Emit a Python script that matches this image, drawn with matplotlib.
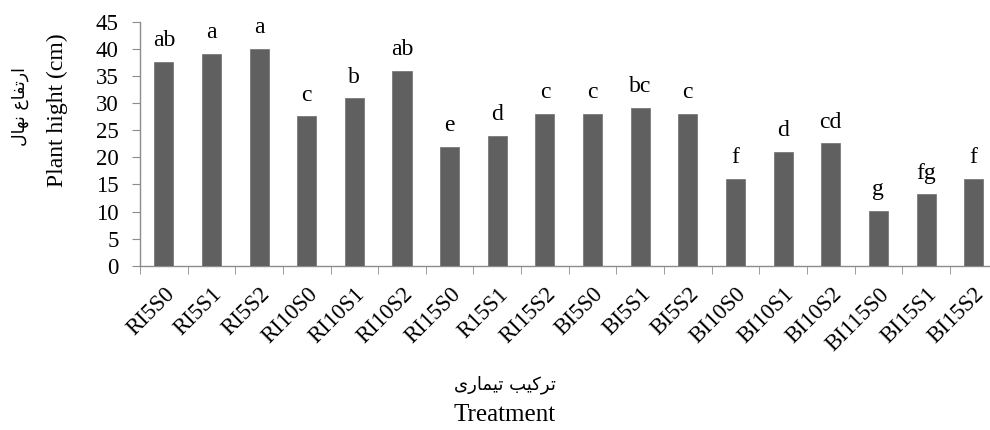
import matplotlib
matplotlib.use("Agg")
import matplotlib.pyplot as plt
import matplotlib.transforms as mtransforms
import numpy as np

treatments = ["RI5S0", "RI5S1", "RI5S2", "RI10S0", "RI10S1", "RI10S2",
              "RI15S0", "R15S1", "RI15S2", "BI5S0", "BI5S1", "BI5S2",
              "BI10S0", "BI10S1", "BI10S2", "BI115S0", "BI15S1", "BI15S2"]
heights = [37.6, 39.1, 40.0, 27.6, 30.9, 36.0,
           21.9, 24.0, 28.1, 28.1, 29.1, 28.1,
           16.0, 21.0, 22.6, 10.1, 13.2, 16.0]
letters = ["ab", "a", "a", "c", "b", "ab",
           "e", "d", "c", "c", "bc", "c",
           "f", "d", "cd", "g", "fg", "f"]

# Persian labels, pre-shaped (presentation forms, visual order)
fa_ylabel = "".join(reversed("\uFE8D\uFEAD\uFE97\uFED4\uFE8E\uFEC9 \uFEE7\uFEEC\uFE8E\uFEDD"))
fa_xlabel = "".join(reversed("\uFE97\uFEAE\uFEDB\uFEF4\uFE90 \uFE97\uFEF4\uFEE4\uFE8E\uFEAD\uFEEF"))

SERIF = ["Liberation Serif", "DejaVu Serif"]
AX_COLOR = "#8c8c8c"
BAR_COLOR = "#606060"

fig = plt.figure(figsize=(9.9, 4.3), dpi=100)
ax = fig.add_axes([140 / 990, 1 - 265.7 / 430, 857.5 / 990, 243.7 / 430])

x = np.arange(len(treatments))
ax.bar(x, heights, width=0.4, color=BAR_COLOR, edgecolor="#7a7a7a", linewidth=0.6, zorder=3)

for xi, h, lab in zip(x, heights, letters):
    ax.text(xi, h + 2.9, lab, ha="center", va="baseline", fontsize=17,
            family=SERIF, color="black")

ax.set_xlim(-0.5, len(treatments) - 0.5)
ax.set_ylim(0, 45)
ax.set_yticks(np.arange(0, 46, 5))
ax.set_xticks(x)
ax.set_xticks(np.arange(-0.5, len(treatments), 1.0), minor=True)
ax.set_xticklabels(treatments, rotation=45, ha="right", rotation_mode="anchor",
                   family=SERIF, fontsize=16.5)
# nudge rotated labels a little left/down like the original
shift = mtransforms.ScaledTranslation(-4 / 100, -2 / 100, fig.dpi_scale_trans)
for t in ax.get_xticklabels():
    t.set_transform(t.get_transform() + shift)
for t in ax.get_yticklabels():
    t.set_family(SERIF)
    t.set_fontsize(16.5)

ax.tick_params(axis="x", which="major", length=0, pad=13)
ax.tick_params(axis="x", which="minor", length=5.5, color=AX_COLOR, direction="out")
ax.tick_params(axis="y", length=5.5, color=AX_COLOR, direction="out", pad=10)

for s in ["top", "right"]:
    ax.spines[s].set_visible(False)
for s in ["left", "bottom"]:
    ax.spines[s].set_color(AX_COLOR)
    ax.spines[s].set_linewidth(1.0)

# y label (Persian + English)
fig.text(20 / 990, 1 - 107 / 430, fa_ylabel, rotation=90, ha="center", va="center",
         family=["DejaVu Sans"], fontsize=12.5)
fig.text(57 / 990, 1 - 110 / 430, "Plant hight (cm)", rotation=90, ha="center", va="center",
         family=SERIF, fontsize=17)

# x label (Persian + English)
fig.text(505 / 990, 1 - 385 / 430, fa_xlabel, ha="center", va="center",
         family=["DejaVu Sans"], fontsize=13)
fig.text(505 / 990, 1 - 415 / 430, "Treatment", ha="center", va="center",
         family=SERIF, fontsize=18)

fig.savefig("out.png", dpi=100)
